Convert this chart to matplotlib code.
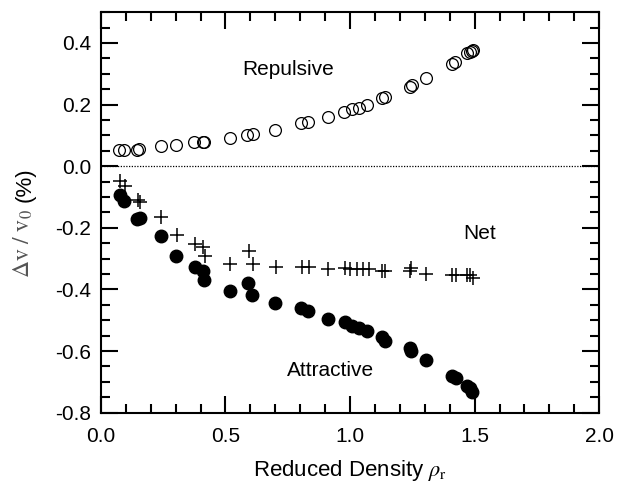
import matplotlib
matplotlib.use('Agg')
import matplotlib.pyplot as plt
from matplotlib.ticker import MultipleLocator

plt.rcParams['font.family'] = ['Liberation Sans', 'DejaVu Sans']
plt.rcParams['mathtext.fontset'] = 'stix'

# Repulsive contribution (open circles)
rep_x = [0.071, 0.091, 0.145, 0.154, 0.241, 0.302, 0.375, 0.408, 0.415, 0.518,
         0.586, 0.609, 0.699, 0.803, 0.833, 0.910, 0.977, 1.008, 1.035, 1.068,
         1.128, 1.142, 1.242, 1.249, 1.306, 1.410, 1.423, 1.470, 1.483, 1.490, 1.495]
rep_y = [0.051, 0.051, 0.054, 0.056, 0.064, 0.069, 0.077, 0.079, 0.079, 0.093,
         0.101, 0.104, 0.117, 0.139, 0.142, 0.160, 0.175, 0.184, 0.190, 0.198,
         0.220, 0.224, 0.258, 0.262, 0.285, 0.332, 0.339, 0.366, 0.371, 0.375, 0.377]

# Attractive contribution (filled circles)
att_x = [0.075, 0.094, 0.145, 0.155, 0.241, 0.302, 0.376, 0.410, 0.415, 0.517,
         0.589, 0.608, 0.700, 0.805, 0.832, 0.910, 0.979, 1.008, 1.035, 1.070,
         1.128, 1.142, 1.240, 1.246, 1.306, 1.410, 1.426, 1.470, 1.483, 1.490]
att_y = [-0.095, -0.114, -0.173, -0.169, -0.227, -0.291, -0.327, -0.339, -0.368, -0.406,
         -0.380, -0.419, -0.445, -0.462, -0.471, -0.496, -0.505, -0.519, -0.525, -0.536,
         -0.555, -0.566, -0.591, -0.601, -0.628, -0.682, -0.687, -0.714, -0.719, -0.734]

# Net change (plus markers)
net_x = [0.078, 0.095, 0.149, 0.158, 0.241, 0.305, 0.379, 0.410, 0.416, 0.519,
         0.593, 0.610, 0.701, 0.807, 0.834, 0.911, 0.979, 1.001, 1.028, 1.052,
         1.075, 1.128, 1.142, 1.242, 1.245, 1.306, 1.410, 1.427, 1.470, 1.483, 1.494]
net_y = [-0.049, -0.063, -0.110, -0.116, -0.165, -0.225, -0.254, -0.262, -0.292, -0.319,
         -0.276, -0.319, -0.328, -0.327, -0.327, -0.335, -0.329, -0.333, -0.333, -0.333,
         -0.333, -0.339, -0.340, -0.341, -0.330, -0.349, -0.354, -0.354, -0.354, -0.352, -0.362]

fig = plt.figure(figsize=(6.19, 4.86), dpi=100)
ax = fig.add_axes([0.163, 0.151, 0.805, 0.824])

ax.axhline(0, color='black', linestyle=(0, (1, 1.2)), linewidth=0.9)
ax.plot(rep_x, rep_y, 'o', mfc='none', mec='black', mew=0.9, ms=8.5, linestyle='none')
ax.plot(att_x, att_y, 'o', color='black', ms=9, linestyle='none')
ax.plot(net_x, net_y, '+', color='black', mew=1.1, ms=10, linestyle='none')

ax.text(0.75, 0.315, 'Repulsive', fontsize=15, ha='center', va='center')
ax.text(1.52, -0.219, 'Net', fontsize=15, ha='center', va='center')
ax.text(0.92, -0.662, 'Attractive', fontsize=15, ha='center', va='center')

ax.set_xlim(0, 2.0)
ax.set_ylim(-0.8, 0.5)
ax.xaxis.set_major_locator(MultipleLocator(0.5))
ax.xaxis.set_minor_locator(MultipleLocator(0.1))
ax.yaxis.set_minor_locator(MultipleLocator(0.05))
ax.set_yticks([-0.8, -0.6, -0.4, -0.2, 0.0, 0.2, 0.4])
ax.set_yticklabels(['-0.8', '-0.6', '-0.4', '-0.2', '0.0', '0.2', '0.4'])
ax.tick_params(which='both', direction='in', top=True, right=True, width=1.5, labelsize=15)
ax.tick_params(which='major', length=12)
ax.tick_params(which='minor', length=6.5)
ax.tick_params(axis='x', which='major', pad=10)
ax.tick_params(axis='y', which='major', pad=7)
for s in ax.spines.values():
    s.set_linewidth(1.5)

ax.set_xlabel(r'Reduced Density $\rho_\mathrm{r}$', fontsize=16, labelpad=9)

# y label: grey serif quantity plus black "(%)"
ax.text(-0.155, 0.335, r'$\Delta\mathrm{v}\ /\ \mathrm{v}_0$', transform=ax.transAxes,
        rotation=90, ha='center', va='bottom', fontsize=17, color='#555555')
ax.text(-0.152, 0.527, '(%)', transform=ax.transAxes,
        rotation=90, ha='center', va='bottom', fontsize=16, color='black')

fig.savefig('out.png', dpi=100)
